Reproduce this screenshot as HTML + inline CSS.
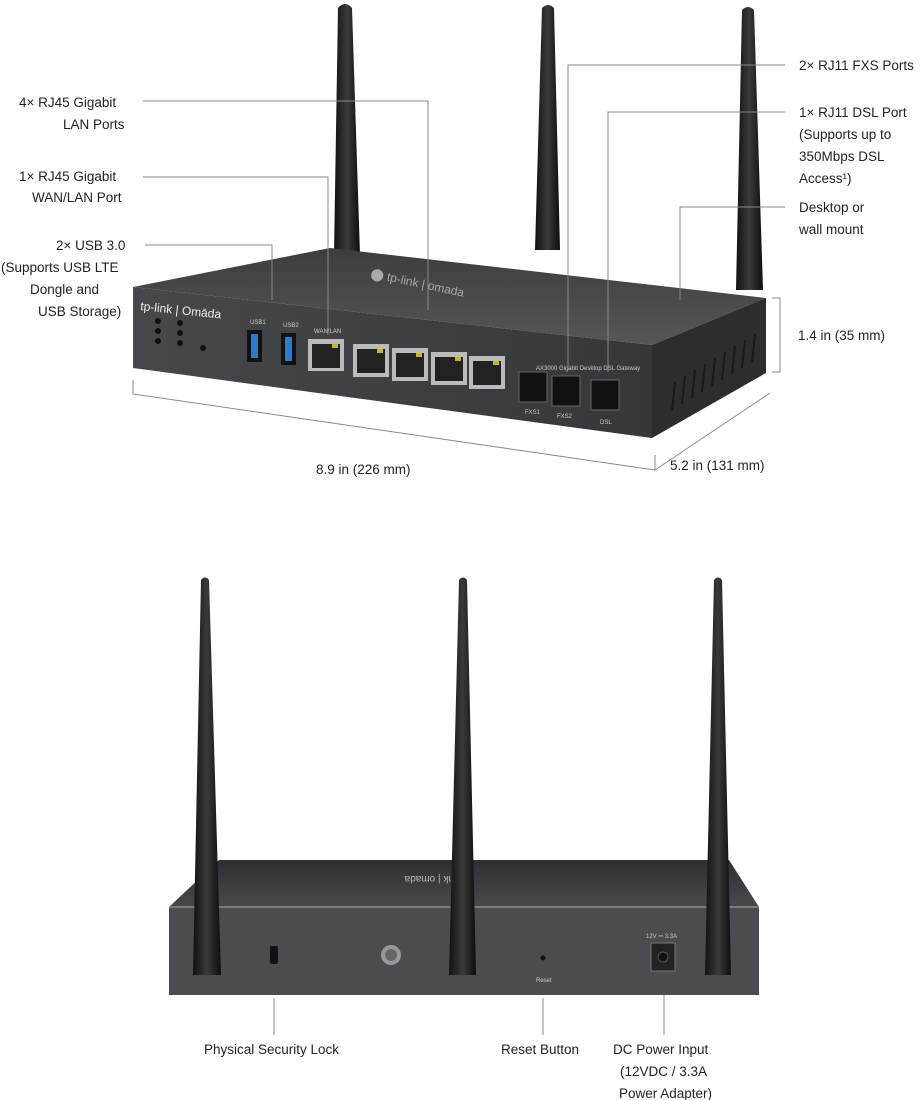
<!DOCTYPE html>
<html><head><meta charset="utf-8"><style>
html,body{margin:0;padding:0;background:#fff}
svg{display:block}
text{font-family:"Liberation Sans",sans-serif;font-size:13.5px;fill:#222}
.l{stroke:#888;stroke-width:1;fill:none}
</style></head><body>
<svg width="922" height="1100" viewBox="0 0 922 1100">
<defs>
<linearGradient id="ant" x1="0" x2="1"><stop offset="0" stop-color="#111"/><stop offset=".5" stop-color="#3a3a3a"/><stop offset="1" stop-color="#0d0d0d"/></linearGradient>
<linearGradient id="top" x1="0" y1="0" x2="0" y2="1"><stop offset="0" stop-color="#3c3d40"/><stop offset="1" stop-color="#55565a"/></linearGradient>
<linearGradient id="front" x1="0" y1="0" x2="1" y2="0"><stop offset="0" stop-color="#47484b"/><stop offset="1" stop-color="#36373a"/></linearGradient>
<linearGradient id="btop" x1="0" y1="0" x2="0" y2="1"><stop offset="0" stop-color="#2e2f32"/><stop offset="1" stop-color="#48494c"/></linearGradient>
</defs>
<!-- top antennas -->
<path d="M338,8 Q345,0 352,8 L360,255 L334,255 Z" fill="url(#ant)"/>
<path d="M542,8 Q548,2 554,8 L560,250 L535,250 Z" fill="url(#ant)"/>
<path d="M742,10 Q748,4 754,10 L763,290 L736,290 Z" fill="url(#ant)"/>
<!-- top router -->
<polygon points="133,287 652,345 766,298 330,248" fill="url(#top)"/>
<polygon points="133,287 652,345 652,438 133,368" fill="url(#front)"/>
<polygon points="652,345 766,298 766,373 652,438" fill="#2c2d30"/>
<g stroke="#1a1a1a" stroke-width="2">
<line x1="675" y1="382" x2="672" y2="410"/><line x1="685" y1="376" x2="682" y2="404"/><line x1="695" y1="370" x2="692" y2="398"/><line x1="705" y1="364" x2="702" y2="392"/><line x1="715" y1="358" x2="712" y2="386"/><line x1="725" y1="352" x2="722" y2="380"/><line x1="735" y1="346" x2="732" y2="374"/><line x1="745" y1="340" x2="742" y2="368"/><line x1="755" y1="334" x2="752" y2="362"/>
</g>
<text x="370" y="277" transform="rotate(12 370 277)" style="font-size:12px;fill:#aaa">⬤ tp-link | omada</text>
<text x="140" y="310" transform="rotate(6 140 310)" style="font-size:12px;fill:#eee">tp-link | Omāda</text>
<g fill="#111"><circle cx="158" cy="321" r="3"/><circle cx="158" cy="331" r="3"/><circle cx="158" cy="341" r="3"/><circle cx="180" cy="323" r="3"/><circle cx="180" cy="333" r="3"/><circle cx="180" cy="343" r="3"/><circle cx="203" cy="348" r="3"/></g>
<rect x="247" y="330" width="15" height="32" fill="#111"/><rect x="251" y="334" width="7" height="24" fill="#2a7ad0"/>
<rect x="281" y="333" width="15" height="32" fill="#111"/><rect x="285" y="337" width="7" height="24" fill="#2a7ad0"/>
<g fill="#bbb"><rect x="308" y="339" width="36" height="32"/><rect x="353" y="344" width="36" height="33"/><rect x="392" y="348" width="36" height="33"/><rect x="431" y="352" width="36" height="33"/><rect x="469" y="356" width="36" height="33"/></g>
<g fill="#222"><rect x="312" y="344" width="28" height="24"/><rect x="357" y="349" width="28" height="24"/><rect x="396" y="353" width="28" height="24"/><rect x="435" y="357" width="28" height="24"/><rect x="473" y="361" width="28" height="24"/></g>
<g fill="#c8b820"><rect x="332" y="344" width="6" height="4"/><rect x="377" y="349" width="6" height="4"/><rect x="416" y="353" width="6" height="4"/><rect x="455" y="357" width="6" height="4"/><rect x="493" y="361" width="6" height="4"/></g>
<g fill="#111" stroke="#666"><rect x="519" y="372" width="28" height="30"/><rect x="552" y="376" width="28" height="30"/><rect x="591" y="380" width="28" height="30"/></g>
<g><text x="250" y="324" style="font-size:6px;fill:#ccc">USB1</text><text x="283" y="327" style="font-size:6px;fill:#ccc">USB2</text><text x="314" y="333" style="font-size:6px;fill:#ccc">WAN/LAN</text><text x="525" y="414" style="font-size:6px;fill:#ccc">FXS1</text><text x="557" y="418" style="font-size:6px;fill:#ccc">FXS2</text><text x="600" y="424" style="font-size:6px;fill:#ccc">DSL</text><text x="536" y="370" style="font-size:6px;fill:#ccc">AX3000 Gigabit Desktop DSL Gateway</text></g>
<polyline class="l" points="143,101 428,101 428,310"/>
<polyline class="l" points="143,177 328,177 328,335"/>
<polyline class="l" points="145,245 272,245 272,300"/>
<polyline class="l" points="785,65 568,65 568,370"/>
<polyline class="l" points="785,112 608,112 608,372"/>
<polyline class="l" points="785,207 680,207 680,300"/>
<polyline class="l" points="772,298 780,298 780,372 772,372"/>
<polyline class="l" points="133,380 133,394 655,470"/>
<polyline class="l" points="655,455 655,470 770,393"/>
<text x="19" y="107">4× RJ45 Gigabit</text><text x="63" y="129">LAN Ports</text>
<text x="19" y="181">1× RJ45 Gigabit</text><text x="32" y="202">WAN/LAN Port</text>
<text x="56" y="250">2× USB 3.0</text><text x="1" y="272">(Supports USB LTE</text><text x="30" y="294">Dongle and</text><text x="38" y="316">USB Storage)</text>
<text x="799" y="70">2× RJ11 FXS Ports</text>
<text x="799" y="117">1× RJ11 DSL Port</text><text x="799" y="139">(Supports up to</text><text x="799" y="161">350Mbps DSL</text><text x="799" y="183">Access¹)</text>
<text x="799" y="212">Desktop or</text><text x="799" y="234">wall mount</text>
<text x="798" y="340">1.4 in (35 mm)</text>
<text x="316" y="474">8.9 in (226 mm)</text>
<text x="670" y="470">5.2 in (131 mm)</text>
<!-- bottom router -->
<polygon points="219,860 729,860 759,907 169,907" fill="url(#btop)"/>
<rect x="169" y="907" width="590" height="88" fill="#4b4c50"/>
<line x1="169" y1="907" x2="759" y2="907" stroke="#8a8b8e" stroke-width="1.5"/>
<text x="470" y="884" transform="rotate(180 470 880)" style="font-size:10px;fill:#bbb">tp-link | omada</text>
<rect x="270" y="946" width="8" height="18" rx="2" fill="#111"/>
<circle cx="391" cy="955" r="10" fill="#999"/><circle cx="391" cy="955" r="6" fill="#666"/>
<circle cx="543" cy="958" r="2.5" fill="#111"/>
<text x="536" y="982" style="font-size:6px;fill:#ccc">Reset</text>
<text x="646" y="938" style="font-size:6px;fill:#ccc">12V ⎓ 3.3A</text>
<rect x="651" y="943" width="24" height="28" fill="#222" stroke="#777"/><circle cx="663" cy="957" r="5" fill="#111" stroke="#555"/>
<path d="M201,580 Q205,575 209,580 L221,975 L193,975 Z" fill="url(#ant)"/>
<path d="M459,580 Q463,575 467,580 L476,975 L449,975 Z" fill="url(#ant)"/>
<path d="M714,580 Q718,575 722,580 L731,975 L705,975 Z" fill="url(#ant)"/>
<line class="l" x1="274" y1="998" x2="274" y2="1035"/>
<line class="l" x1="543" y1="998" x2="543" y2="1035"/>
<line class="l" x1="664" y1="995" x2="664" y2="1035"/>
<text x="204" y="1054">Physical Security Lock</text>
<text x="501" y="1054">Reset Button</text>
<text x="613" y="1054">DC Power Input</text><text x="620" y="1076">(12VDC / 3.3A</text><text x="619" y="1098">Power Adapter)</text>
</svg>
</body></html>
